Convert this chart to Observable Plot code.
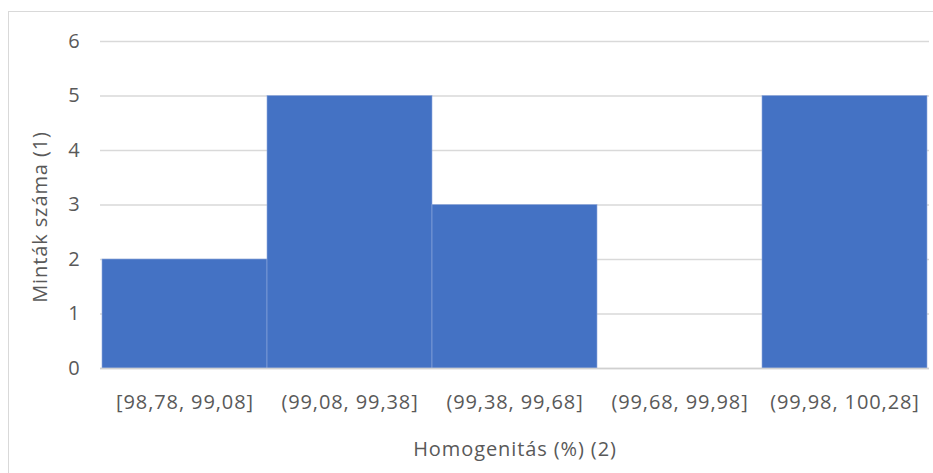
<!DOCTYPE html>
<html>
<head>
<meta charset="utf-8">
<script src="https://cdn.jsdelivr.net/npm/d3@7"></script>
<script src="https://cdn.jsdelivr.net/npm/@observablehq/plot@0.6"></script>
<style>
  html, body { margin: 0; padding: 0; background: #fff; overflow: hidden; }
  #wrap { position: relative; width: 933px; height: 473px; }
  #frame { position: absolute; left: 8px; top: 11px; width: 940px; height: 480px;
           border-left: 1px solid #d9d9d9; border-top: 1px solid #d9d9d9; box-sizing: border-box; }
  #chart { position: absolute; left: 0; top: 0; }
  #chart svg text { letter-spacing: 0.9px; }
</style>
</head>
<body>
<div id="wrap"><div id="frame"></div><div id="chart"></div></div>
<script>
const bins = ["[98,78, 99,08]", "(99,08, 99,38]", "(99,38, 99,68]", "(99,68, 99,98]", "(99,98, 100,28]"];
const counts = [2, 5, 3, 0, 5];
const yTicks = [0, 1, 2, 3, 4, 5, 6];
const xTitle = "Homogenitás (%) (2)";
const yTitle = "Minták száma (1)";

const data = bins.map((b, i) => ({bin: b, count: counts[i]}));
const font = "'Open Sans', Roboto, sans-serif";

const chart = Plot.plot({
  width: 933,
  height: 473,
  marginLeft: 100,
  marginRight: 4,
  marginTop: 41,
  marginBottom: 105,
  style: {fontFamily: font, fontSize: "20px", color: "#595959", background: "transparent"},
  x: {domain: bins, padding: 0, label: null},
  y: {domain: [0, 6], label: null},
  marks: [
    Plot.gridY(yTicks, {stroke: "#d9d9d9", strokeOpacity: 1, strokeWidth: 1.5}),
    Plot.barY(data, {x: "bin", y: "count", fill: "#4472C4", stroke: "#8fa9dc", strokeWidth: 0.6}),
    Plot.ruleY([0], {stroke: "#d0d0d0", strokeWidth: 1.5}),
    Plot.axisY(yTicks, {tickSize: 0, tickPadding: 20, tickFormat: d3.format("d"), fontSize: 20, fill: "#595959", label: null}),
    Plot.axisX({tickSize: 0, tickPadding: 26, fontSize: 20, fill: "#595959", label: null}),
    Plot.text([xTitle], {frameAnchor: "bottom", dy: 87, fontSize: 20, fill: "#595959"}),
    Plot.text([yTitle], {frameAnchor: "left", textAnchor: "middle", dx: -60, dy: 12, rotate: -90, fontSize: 20, fill: "#595959"})
  ]
});
document.getElementById("chart").appendChild(chart);
</script>
</body>
</html>
